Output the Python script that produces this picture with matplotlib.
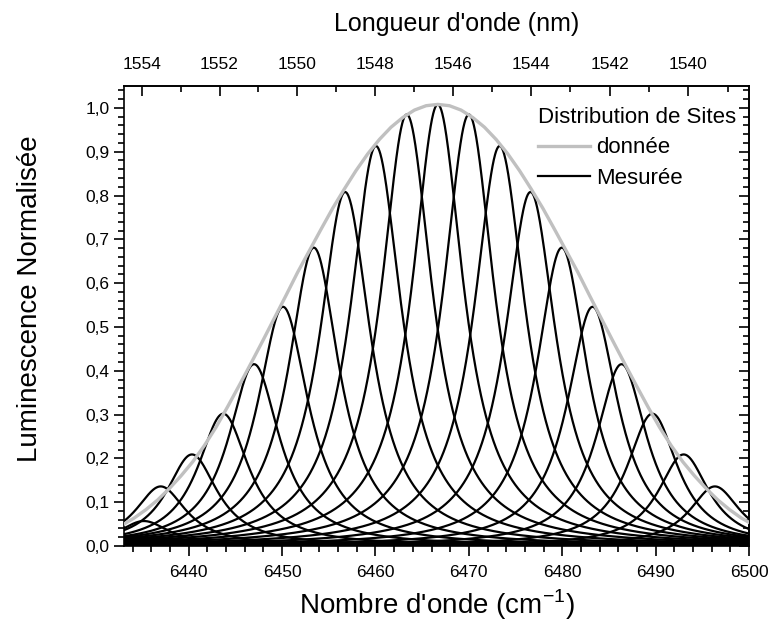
import numpy as np
import matplotlib.pyplot as plt
from matplotlib.ticker import MultipleLocator, FixedLocator, FuncFormatter

plt.rcParams['font.family'] = 'Liberation Sans'
plt.rcParams['mathtext.fontset'] = 'custom'
plt.rcParams['mathtext.rm'] = 'Liberation Sans'

# site distribution (grey envelope), wavenumber in cm-1 / normalised luminescence
dist_wn = [6433.07, 6434.17, 6435.42, 6436.67, 6437.92, 6439.17, 6440.42, 6441.67,
           6442.92, 6444.17, 6445.42, 6446.67, 6447.92, 6449.17, 6450.42, 6451.67,
           6452.92, 6454.17, 6455.42, 6456.67, 6457.92, 6459.17, 6460.42, 6461.67,
           6462.92, 6464.17, 6465.42, 6466.67,
           6467.92, 6469.17, 6470.42, 6471.67, 6472.92, 6474.17, 6475.42, 6476.67,
           6477.92, 6479.17, 6480.42, 6481.67, 6482.92, 6484.17, 6485.42, 6486.67,
           6487.92, 6489.17, 6490.42, 6491.67, 6492.92, 6494.17, 6495.42, 6496.67,
           6497.92, 6499.17, 6500.0]
dist_lum = [0.050, 0.064, 0.083, 0.105, 0.131, 0.160, 0.192, 0.229,
            0.271, 0.318, 0.367, 0.417, 0.468, 0.520, 0.572, 0.625,
            0.674, 0.723, 0.771, 0.815, 0.857, 0.895, 0.928, 0.956,
            0.978, 0.995, 1.005, 1.008,
            1.005, 0.995, 0.978, 0.956, 0.928, 0.895, 0.857, 0.815,
            0.771, 0.723, 0.674, 0.625, 0.572, 0.520, 0.468, 0.417,
            0.367, 0.318, 0.271, 0.229, 0.192, 0.160, 0.131, 0.105,
            0.083, 0.064, 0.054]

# measured spectra: line centre and peak height of each excitation
peak_wn = [6435.2, 6437.0, 6440.35, 6443.7, 6447.0, 6450.1, 6453.4, 6456.75,
           6460.05, 6463.35, 6466.67, 6470.0, 6473.3, 6476.6, 6479.95,
           6483.25, 6486.35, 6489.65, 6493.0, 6496.35]
peak_lum = [0.057, 0.136, 0.209, 0.302, 0.415, 0.546, 0.681, 0.808,
            0.913, 0.985, 1.008, 0.985, 0.913, 0.808, 0.681,
            0.546, 0.415, 0.302, 0.209, 0.136]
HWHM = 3.33  # homogeneous half width (cm-1)

XMIN, XMAX = 6433.07, 6500.0

fig = plt.figure(figsize=(7.7, 6.3), dpi=100)
ax = fig.add_axes([124 / 770, 84 / 630, 625 / 770, 460 / 630])

wn = np.linspace(XMIN, XMAX, 2000)
for i, (c, h) in enumerate(zip(peak_wn, peak_lum)):
  ax.plot(wn, h / (1 + ((wn - c) / HWHM) ** 2), color='black', lw=1.6,
          label='Mesurée' if i == 0 else None, zorder=2)
ax.plot(dist_wn, dist_lum, color='#c0c0c0', lw=2.4, label='donnée', zorder=3)

ax.set_xlim(XMIN, XMAX)
ax.set_ylim(0, 1.05)

TICK_FS = 12.5
ax.xaxis.set_major_locator(MultipleLocator(10))
ax.xaxis.set_minor_locator(MultipleLocator(2))
ax.yaxis.set_major_locator(MultipleLocator(0.1))
ax.yaxis.set_minor_locator(MultipleLocator(0.02))
ax.yaxis.set_major_formatter(FuncFormatter(lambda v, p: f'{v:.1f}'.replace('.', ',')))
ax.tick_params(which='both', direction='out', width=1.2, labelsize=TICK_FS)
ax.tick_params(which='major', length=7)
ax.tick_params(which='minor', length=4)
ax.tick_params(axis='x', pad=7)
ax.tick_params(top=False, right=False)
for s in ax.spines.values():
  s.set_linewidth(1.2)


def wn2nm(x):
  x = np.asarray(x, dtype=float)
  with np.errstate(divide='ignore'):
    return 1e7 / x


# wavelength axis on top
top = ax.secondary_xaxis('top', functions=(wn2nm, wn2nm))
top.xaxis.set_major_locator(FixedLocator(np.arange(1540, 1556, 2)))
top.xaxis.set_minor_locator(FixedLocator(np.arange(1539, 1556, 2)))
top.tick_params(which='both', direction='in', width=1.2, labelsize=TICK_FS, pad=10)
top.tick_params(which='major', length=7)
top.tick_params(which='minor', length=4)
top.spines['top'].set_linewidth(1.2)
top.set_xlabel("Longueur d'onde (nm)", fontsize=18, labelpad=19)
top.xaxis.label.set_x(0.533)

right = ax.secondary_yaxis('right')
right.yaxis.set_major_locator(MultipleLocator(0.1))
right.yaxis.set_minor_locator(MultipleLocator(0.02))
right.tick_params(which='both', direction='in', width=1.2, labelright=False)
right.tick_params(which='major', length=7)
right.tick_params(which='minor', length=4)
right.spines['right'].set_linewidth(1.2)

ax.set_xlabel(r"Nombre d'onde (cm$^{\mathregular{-1}}$)", fontsize=20, labelpad=5)
ax.set_ylabel('Luminescence Normalisée', fontsize=20)
ax.yaxis.set_label_coords(-0.13, 0.537)

handles, labels = ax.get_legend_handles_labels()
order = [labels.index('donnée'), labels.index('Mesurée')]
ax.legend([handles[i] for i in order], [labels[i] for i in order],
          title='Distribution de Sites', loc='upper right',
          bbox_to_anchor=(1 - 13 / 625, 1 - 21 / 460), frameon=False,
          alignment='left', fontsize=16, title_fontsize=16, handlelength=2.35,
          handletextpad=0.25, borderaxespad=0, borderpad=0, labelspacing=0.42)

fig.savefig('out.png', dpi=100)
